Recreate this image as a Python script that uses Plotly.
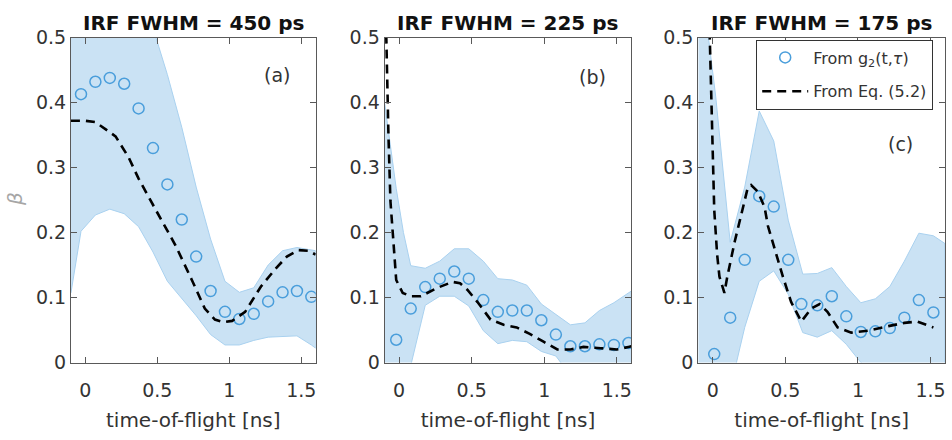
import plotly.graph_objects as go

# ---------------- data ----------------
titles = ["IRF FWHM = 450 ps", "IRF FWHM = 225 ps", "IRF FWHM = 175 ps"]
panel_labels = ["(a)", "(b)", "(c)"]
legend_names = ["From g<sub>2</sub>(t,<i>τ</i>)", "From Eq. (5.2)"]
x_ticks = [0, 0.5, 1, 1.5]
x_tick_text = ["0", "0.5", "1", "1.5"]
y_ticks = [0, 0.1, 0.2, 0.3, 0.4, 0.5]
y_tick_text = ["0", "0.1", "0.2", "0.3", "0.4", "0.5"]

# panel (a)
a_t = [-0.03, 0.07, 0.17, 0.27, 0.37, 0.47, 0.57, 0.67, 0.77, 0.87, 0.97, 1.07, 1.17, 1.27, 1.37, 1.47, 1.57]
a_beta = [0.413, 0.432, 0.438, 0.429, 0.391, 0.330, 0.274, 0.220, 0.163, 0.110, 0.078, 0.067, 0.075, 0.094, 0.108, 0.110, 0.101]
a_fit_t = [-0.1, 0.0, 0.07, 0.12, 0.21, 0.30, 0.37, 0.454, 0.51, 0.627, 0.74, 0.83, 0.90, 0.96, 1.02, 1.11, 1.22, 1.32, 1.40, 1.48, 1.55, 1.6]
a_fit = [0.372, 0.372, 0.370, 0.362, 0.348, 0.316, 0.283, 0.249, 0.227, 0.180, 0.127, 0.083, 0.066, 0.062, 0.064, 0.078, 0.117, 0.144, 0.163, 0.173, 0.172, 0.166]
a_band_t = [-0.1, -0.03, 0.07, 0.17, 0.27, 0.37, 0.47, 0.57, 0.67, 0.77, 0.87, 0.97, 1.07, 1.17, 1.27, 1.37, 1.47, 1.57, 1.6]
a_band_hi = [0.70, 0.70, 0.69, 0.67, 0.64, 0.60, 0.515, 0.443, 0.362, 0.270, 0.190, 0.125, 0.108, 0.115, 0.150, 0.172, 0.177, 0.174, 0.172]
a_band_lo = [0.107, 0.202, 0.227, 0.236, 0.229, 0.209, 0.170, 0.125, 0.098, 0.072, 0.043, 0.027, 0.027, 0.034, 0.039, 0.040, 0.041, 0.027, 0.022]

# panel (b)
b_t = [-0.02, 0.08, 0.18, 0.28, 0.38, 0.48, 0.58, 0.68, 0.78, 0.88, 0.98, 1.08, 1.18, 1.28, 1.38, 1.48, 1.58]
b_beta = [0.035, 0.083, 0.116, 0.129, 0.140, 0.129, 0.096, 0.078, 0.080, 0.080, 0.065, 0.043, 0.025, 0.025, 0.028, 0.027, 0.030]
b_fit_t = [-0.1, -0.09, -0.073, -0.06, -0.043, -0.02, 0.025, 0.08, 0.15, 0.265, 0.367, 0.42, 0.47, 0.54, 0.63, 0.72, 0.81, 0.90, 0.995, 1.09, 1.18, 1.27, 1.39, 1.50, 1.58, 1.6]
b_fit = [0.62, 0.50, 0.346, 0.249, 0.190, 0.127, 0.107, 0.102, 0.102, 0.115, 0.124, 0.122, 0.112, 0.093, 0.066, 0.058, 0.054, 0.044, 0.032, 0.020, 0.020, 0.024, 0.022, 0.020, 0.024, 0.025]
b_band_t = [-0.1, -0.06, -0.02, 0.03, 0.08, 0.18, 0.28, 0.38, 0.48, 0.58, 0.68, 0.78, 0.88, 0.98, 1.08, 1.18, 1.28, 1.38, 1.48, 1.58, 1.6]
b_band_hi = [0.400, 0.330, 0.268, 0.200, 0.149, 0.145, 0.156, 0.175, 0.175, 0.156, 0.129, 0.127, 0.119, 0.090, 0.074, 0.058, 0.061, 0.080, 0.092, 0.107, 0.110]
b_band_lo = [-0.12, -0.10, -0.08, -0.04, -0.005, 0.088, 0.102, 0.102, 0.087, 0.049, 0.029, 0.034, 0.032, 0.017, 0.010, -0.020, -0.020, -0.020, -0.020, -0.020, -0.020]

# panel (c)
c_t = [0.01, 0.12, 0.22, 0.32, 0.42, 0.52, 0.61, 0.72, 0.82, 0.92, 1.02, 1.12, 1.22, 1.32, 1.42, 1.52]
c_beta = [0.013, 0.069, 0.158, 0.256, 0.240, 0.158, 0.090, 0.088, 0.102, 0.071, 0.047, 0.048, 0.053, 0.069, 0.096, 0.077]
c_fit_t = [-0.03, -0.02, 0.0, 0.01, 0.03, 0.046, 0.08, 0.10, 0.15, 0.207, 0.24, 0.264, 0.31, 0.357, 0.38, 0.425, 0.483, 0.54, 0.61, 0.678, 0.736, 0.79, 0.86, 0.954, 1.07, 1.21, 1.32, 1.41, 1.52]
c_fit = [0.58, 0.50, 0.346, 0.235, 0.166, 0.132, 0.107, 0.132, 0.185, 0.239, 0.268, 0.273, 0.263, 0.239, 0.210, 0.176, 0.132, 0.093, 0.063, 0.083, 0.090, 0.078, 0.054, 0.046, 0.049, 0.056, 0.061, 0.063, 0.054]
c_band_t = [-0.1, -0.03, 0.02, 0.12, 0.22, 0.32, 0.42, 0.52, 0.62, 0.72, 0.82, 0.92, 1.02, 1.12, 1.22, 1.32, 1.42, 1.52, 1.6]
c_band_hi = [0.65, 0.50, 0.41, 0.185, 0.270, 0.387, 0.341, 0.219, 0.136, 0.137, 0.146, 0.117, 0.092, 0.098, 0.117, 0.156, 0.199, 0.195, 0.183]
c_band_lo = [-0.25, -0.19, -0.14, -0.036, 0.054, 0.125, 0.141, 0.105, 0.046, 0.039, 0.049, 0.028, 0.000, -0.020, -0.020, -0.020, -0.020, -0.020, -0.020]

panels = [
    (a_t, a_beta, a_fit_t, a_fit, a_band_t, a_band_hi, a_band_lo),
    (b_t, b_beta, b_fit_t, b_fit, b_band_t, b_band_hi, b_band_lo),
    (c_t, c_beta, c_fit_t, c_fit, c_band_t, c_band_hi, c_band_lo),
]
label_pos = [(1.33, 0.442), (1.33, 0.440), (1.29, 0.336)]

# ---------------- style ----------------
W, H = 952, 440
FONT = "DejaVu Sans"
x_domains = [(71, 316), (385, 632), (699, 946)]
y_top, y_bot = 28, 370
circle_col = "#4A9EDB"
band_fill = "#CAE2F4"
band_edge = "#A9D1EF"
axis_col = "#595959"
text_col = "#333333"

fig = go.Figure()
annotations = []
layout = {}
for i, (t, beta, ft, fv, bt, bhi, blo) in enumerate(panels):
    sfx = "" if i == 0 else str(i + 1)
    xa, ya = "x" + sfx, "y" + sfx
    fig.add_trace(go.Scatter(
        x=bt + bt[::-1], y=bhi + blo[::-1], xaxis=xa, yaxis=ya,
        fill="toself", fillcolor=band_fill, mode="lines",
        line=dict(color=band_edge, width=1), showlegend=False, hoverinfo="skip"))
    fig.add_trace(go.Scatter(
        x=t, y=beta, xaxis=xa, yaxis=ya, mode="markers",
        marker=dict(symbol="circle-open", size=11, color=circle_col,
                    line=dict(width=1.5, color=circle_col)),
        name=legend_names[0], showlegend=(i == 2), legendgroup="g1"))
    fig.add_trace(go.Scatter(
        x=ft, y=fv, xaxis=xa, yaxis=ya, mode="lines",
        line=dict(color="black", width=2.6, dash="9px,6px"),
        name=legend_names[1], showlegend=(i == 2), legendgroup="g2"))
    d0, d1 = x_domains[i]
    layout["xaxis" + sfx] = dict(
        domain=[d0 / W, d1 / W], range=[-0.1, 1.6], anchor=ya,
        tickvals=x_ticks, ticktext=x_tick_text, ticks="inside", ticklen=6,
        tickcolor=axis_col, showline=True, linecolor=axis_col, linewidth=1,
        mirror="ticks", showgrid=False, zeroline=False, ticklabelstandoff=11,
        tickfont=dict(family=FONT, size=19, color=text_col),
        title=dict(text="time-of-flight [ns]", standoff=12,
                   font=dict(family=FONT, size=20, color=text_col)))
    layout["yaxis" + sfx] = dict(
        domain=[1 - y_bot / H, 1 - y_top / H], range=[0, 0.5], anchor=xa,
        tickvals=y_ticks, ticktext=y_tick_text, ticks="inside", ticklen=6,
        tickcolor=axis_col, showline=True, linecolor=axis_col, linewidth=1,
        mirror="ticks", showgrid=False, zeroline=False,
        tickfont=dict(family=FONT, size=19, color=text_col))
    annotations.append(dict(
        text="<b>" + titles[i] + "</b>", xref="paper", yref="paper",
        x=(d0 + d1) / 2 / W, y=1 - 13 / H, xanchor="center", yanchor="middle",
        showarrow=False, font=dict(family=FONT, size=20, color="#111111")))
    lx, ly = label_pos[i]
    annotations.append(dict(
        text=panel_labels[i], xref=xa, yref=ya, x=lx, y=ly,
        xanchor="center", yanchor="middle", showarrow=False,
        font=dict(family=FONT, size=19, color=text_col)))

annotations.append(dict(
    text="<i>β</i>", xref="paper", yref="paper", x=15 / W, y=1 - 198 / H,
    xanchor="center", yanchor="middle", textangle=-90, showarrow=False,
    font=dict(family=FONT, size=20, color="#A6A6A6")))

fig.update_layout(
    width=W, height=H, margin=dict(l=0, r=0, t=0, b=0),
    paper_bgcolor="white", plot_bgcolor="white",
    annotations=annotations,
    legend=dict(x=757 / W, y=1 - 30 / H, xanchor="left", yanchor="top",
                bgcolor="white", bordercolor="#333333", borderwidth=1,
                font=dict(family=FONT, size=16, color=text_col),
                traceorder="grouped", tracegroupgap=10, itemwidth=46),
    **layout)

fig.write_html("out.html")
